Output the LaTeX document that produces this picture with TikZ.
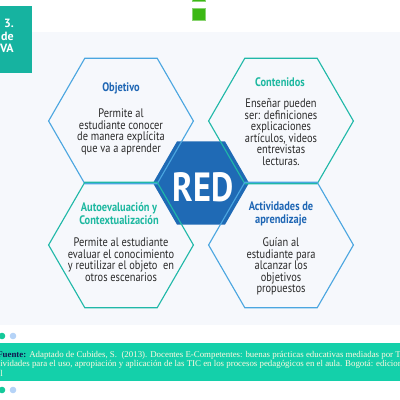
\documentclass[tikz,border=0pt]{standalone}
\usepackage{fontspec}
\setmainfont{PT Sans}
\newfontfamily\narrowfont{PT Sans}[FakeStretch=0.84]
\newfontfamily\notefont{Liberation Serif}
\usetikzlibrary{shapes.geometric}

\definecolor{pagebg}{HTML}{F6F8FC}
\definecolor{boxteal}{HTML}{16B3A0}
\definecolor{sqgreen}{HTML}{3CB814}
\definecolor{lineblue}{HTML}{4BA6E0}
\definecolor{lineteal}{HTML}{20B8A8}
\definecolor{titleblue}{HTML}{1E66B4}
\definecolor{titleteal}{HTML}{1DB8A0}
\definecolor{redfill}{HTML}{1F6AB5}
\definecolor{bodytext}{HTML}{2A2A2A}
\definecolor{bandgreen}{HTML}{14D0AA}
\definecolor{bandtext}{HTML}{FFF8E0}
\definecolor{fuentenavy}{HTML}{101850}
\definecolor{dotteal}{HTML}{14C99A}
\definecolor{dotblue}{HTML}{B5D3F7}

\tikzset{
    hexa/.style={regular polygon, regular polygon sides=6, minimum size=3.62cm, inner sep=0pt, line width=0.8pt},
    hextitle/.style={font=\narrowfont\bfseries\fontsize{8.8}{9.2}\selectfont, align=center, inner sep=0pt},
    hexbody/.style={font=\narrowfont\fontsize{8.8}{8.2}\selectfont, text=bodytext, align=center, inner sep=0pt, anchor=north},
    notetext/.style={font=\notefont\fontsize{6.3}{7}\selectfont, text=bandtext, anchor=west, inner sep=0pt},
}

\begin{document}
\begin{tikzpicture}[x=0.025cm,y=-0.025cm]
    \useasboundingbox (0,0) rectangle (400,400);
    \clip (0,0) rectangle (400,400);
    % background
    \fill[pagebg] (0,32) rectangle (400,325);
    \fill[boxteal] (0,6) rectangle (32,73);
    \node[anchor=east, align=right, text=white, font=\bfseries\fontsize{8.5}{9}\selectfont, inner sep=0pt] (figlabel) at (14,36) {3.\\de\\VA};
    \filldraw[fill=sqgreen, draw=sqgreen!60!white, line width=0.4pt] (192,-5) rectangle (205,1);
    \filldraw[fill=sqgreen, draw=sqgreen!60!white, line width=0.4pt] (192,8) rectangle (205,20);

    % centre hexagon
    \node[hexa, minimum size=2.4cm, fill=redfill] (red) at (201,183) {};

    % four hexagons
    \node[hexa, draw=lineblue] (objetivo) at (121,121) {};
    \node[hexa, draw=lineteal] (contenidos) at (281,121) {};
    \node[hexa, draw=lineteal] (autoeval) at (121,245) {};
    \node[hexa, draw=lineblue] (actividades) at (281,245) {};

    \node[font=\narrowfont\bfseries\fontsize{29}{29}\selectfont, text=white, inner sep=0pt] (redtext) at (203,187) {RED};

    % texts
    \node[hextitle, text=titleblue] (objtitle) at (121,88) {Objetivo};
    \node[hexbody] (objbody) at (121,108.5) {Permite al\\estudiante conocer\\de manera explícita\\que va a aprender};

    \node[hextitle, text=titleteal] (contitle) at (280,82) {Contenidos};
    \node[hexbody] (conbody) at (281,98.5) {Enseñar pueden\\ser: definiciones\\explicaciones\\artículos, videos\\entrevistas\\lecturas.};

    \node[hextitle, text=titleteal] (autotitle) at (119,214) {Autoevaluación y\\Contextualización};
    \node[hexbody] (autobody) at (121,237.5) {Permite al estudiante\\evaluar el conocimiento\\y reutilizar el objeto~ en\\otros escenarios};

    \node[hextitle, text=titleblue] (acttitle) at (281,214) {Actividades de\\aprendizaje};
    \node[hexbody] (actbody) at (281,237.5) {Guían al\\estudiante para\\alcanzar los\\objetivos\\propuestos};

    % source band
    \fill[dotteal] (2,336) circle (3.3);
    \fill[dotblue] (13,336) circle (3.3);
    \fill[bandgreen] (0,343) rectangle (400,381);
    \node[notetext] (note1) at (-3,355) {\textcolor{fuentenavy}{\textbf{Fuente:}} Adaptado de Cubides, S.~ (2013). Docentes E-Competentes: buenas prácticas educativas mediadas por TIC.};
    \node[notetext] (note2) at (0,364.5) {ividades para el uso, apropiación y aplicación de las TIC en los procesos pedagógicos en el aula. Bogotá: ediciones};
    \node[notetext] (note3) at (0,373.5) {l};
    \fill[dotteal] (2,390) circle (3.3);
    \fill[dotblue] (13,390) circle (3.3);
\end{tikzpicture}
\end{document}
